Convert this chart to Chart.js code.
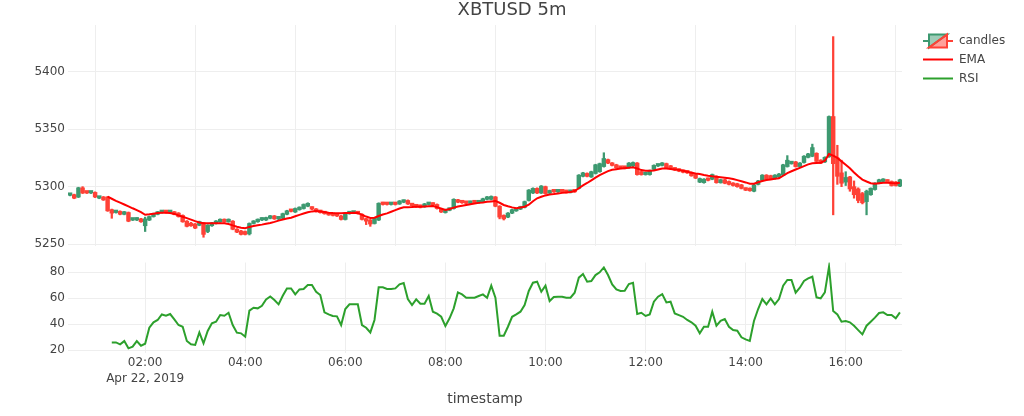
<!DOCTYPE html>
<html>
<head>
<meta charset="utf-8">
<script src="https://cdn.jsdelivr.net/npm/chart.js@4/dist/chart.umd.min.js"></script>
<style>
  html, body { margin: 0; padding: 0; background: #ffffff; }
  #wrap { position: relative; width: 1024px; height: 416px; overflow: hidden; }
  #priceCanvas { position: absolute; left: 0; top: 0; }
  #rsiCanvas { position: absolute; left: 0; top: 250px; }
</style>
</head>
<body>
<div id="wrap">
  <canvas id="priceCanvas" width="1024" height="262"></canvas>
  <canvas id="rsiCanvas" width="1024" height="166"></canvas>
</div>
<script>
// ---------------- DATA ----------------
const chartTitle = 'XBTUSD 5m';
const startMinute = 30;      // first candle 00:30, Apr 22 2019
const stepMinutes = 5;       // 5m candles

const open = [
  5292.5,5293,5291,5299,5295,5294.5,5295,5290,5291,5291,
  5280,5277.5,5278.5,5276,5277.5,5271,5271,5272,5266,5271,
  5274,5276,5277.5,5278.5,5277.5,5278,5277,5275,5270,5268,
  5267.5,5266.5,5268.5,5261,5266,5268,5269.5,5271.5,5269.5,5270,
  5263,5261.5,5261,5259,5268,5269.5,5271,5271,5272.5,5274.5,
  5272,5272.5,5276,5279.5,5278,5280,5281,5283,5282,5280.5,
  5279,5277.5,5277,5276,5275.5,5274.5,5271.5,5276.5,5277,5278,
  5276,5272,5271,5268,5271,5286,5285.5,5284.5,5285.5,5285,
  5286.5,5288,5285,5284,5283.5,5282.5,5284.5,5285.5,5284.5,5281,
  5277.5,5279.5,5281,5288.5,5287,5286.5,5285.5,5287.5,5286,5287,
  5289,5289,5291,5283,5275,5273.5,5277,5279,5280.5,5282,
  5288,5294.5,5298.5,5294.5,5300,5294.5,5296.5,5295.5,5296.5,5296,
  5295,5296.5,5298.5,5309,5311.5,5308.5,5311.5,5313,5317.5,5323.5,
  5320.5,5319,5317,5317,5316.5,5318,5320.5,5313,5310.5,5310.5,
  5315,5318,5318.5,5320,5318,5316,5315,5314,5313.5,5312.5,
  5310.5,5304,5303.5,5307,5306.5,5309,5303.5,5306,5304.5,5303,
  5302.5,5301.5,5298.5,5298.5,5296,5302,5305.5,5310,5309.5,5307,
  5308.5,5310,5317.5,5320,5321.5,5317.5,5321,5325.5,5326.5,5329,
  5323,5321.5,5326,5361,5325,5312,5304,5308.5,5300,5298,
  5294,5287,5293,5297.5,5303,5304.5,5305.5,5304.5,5304,5300.5
];
const high = [
  5294,5293.5,5299.5,5300,5295.5,5295.5,5295.5,5291.5,5291.5,5291.5,
  5280.5,5279,5279,5278.5,5278,5272.5,5273,5272.5,5273.5,5274.5,
  5277,5278.5,5279,5279,5278.5,5278.5,5277.5,5275.5,5270.5,5269,
  5268,5270,5269,5267,5269,5270.5,5272,5272,5272,5270.5,
  5263.5,5262,5261.5,5268.5,5270.5,5272,5273,5273.5,5275,5275,
  5273.5,5277,5279.5,5280,5281.5,5282.5,5285,5286,5282.5,5281,
  5279.5,5278,5277.5,5276.5,5276,5275,5277.5,5278,5278.5,5278.5,
  5276.5,5272.5,5271.5,5273,5286,5286.5,5286,5286,5286,5288,
  5288.5,5288.5,5285.5,5284.5,5284,5285.5,5286,5286,5285,5281.5,
  5280.5,5281.5,5289.5,5289,5287.5,5287,5287.5,5288,5288,5290,
  5291.5,5292,5291.5,5283.5,5275.5,5277.5,5280.5,5281,5283,5287.5,
  5297.5,5299,5299,5301,5300.5,5297,5297,5297,5297,5296.5,
  5297,5297,5310.5,5312.5,5312,5313.5,5319.5,5320.5,5329.5,5324,
  5321,5319.5,5317.5,5317.5,5321,5321.5,5321,5313.5,5312,5314.5,
  5319,5319.5,5321,5320.5,5318.5,5316.5,5315.5,5314.5,5314,5313,
  5311,5307.5,5307,5307.5,5311,5309.5,5306.5,5306.5,5305,5303.5,
  5303,5302,5299,5299,5302,5305.5,5310.5,5310.5,5310,5310.5,
  5311.5,5319.5,5327,5321.5,5322,5321,5327,5329,5337,5329.5,
  5323.5,5326,5361.5,5430.5,5336,5323,5313,5309,5305,5299,
  5295,5297,5299,5303.5,5306.5,5307,5306,5305,5304.5,5306.5
];
const low = [
  5292,5289.5,5290.5,5294,5294,5294,5290.5,5289.5,5288,5278.5,
  5272.5,5277,5275.5,5275.5,5269.5,5270.5,5270.5,5269,5261,5270.5,
  5273.5,5275.5,5277,5277,5277,5275.5,5273.5,5269,5265,5265.5,
  5263.5,5266,5256,5260,5265.5,5267.5,5269,5269,5269,5262.5,
  5260,5258,5258,5258,5267.5,5269,5270.5,5270.5,5272,5271.5,
  5271,5272,5275.5,5278,5277.5,5279.5,5280.5,5282.5,5280,5278,
  5277,5276,5275,5274.5,5274,5271,5271,5276,5276.5,5276,
  5271,5267,5265.5,5267.5,5270.5,5284,5284,5284,5284,5284.5,
  5286,5284.5,5283,5282,5281.5,5282,5284,5283.5,5280.5,5277.5,
  5277,5279,5280.5,5286,5285.5,5285,5285,5285.5,5285.5,5286.5,
  5288.5,5288.5,5282.5,5272,5271,5273,5276.5,5278.5,5280,5281.5,
  5287.5,5294,5294,5294,5293.5,5294,5295,5295,5295,5294.5,
  5294.5,5295,5298,5308.5,5308.5,5308,5311,5312.5,5317,5320,
  5318,5316,5315.5,5315.5,5316,5317.5,5310,5310,5310,5310,
  5314.5,5317.5,5318,5316,5315.5,5314,5313,5312,5311.5,5309,
  5307,5303.5,5303,5305,5306,5303,5303,5302.5,5301.5,5300.5,
  5299.5,5298,5296.5,5296,5295.5,5301.5,5305,5306,5306.5,5306.5,
  5308,5309.5,5317,5319.5,5317,5317,5320.5,5325,5326,5321.5,
  5320,5321,5325.5,5275.5,5302,5300,5301,5296,5290,5286,
  5285,5275.5,5292.5,5297,5302.5,5304,5303.5,5300.5,5300.5,5300
];
const close = [
  5293.5,5290,5299,5294.5,5294.5,5295,5291,5291,5288.5,5279,
  5277,5278.5,5276,5278,5270,5272,5272.5,5269.5,5272,5274,
  5276.5,5278,5278.5,5277.5,5278,5276,5274,5269.5,5265.5,5266,
  5264,5269.5,5258.5,5266.5,5268.5,5270,5271.5,5269.5,5271.5,5263,
  5260.5,5258.5,5258.5,5268,5270,5271.5,5272.5,5273,5274.5,5272,
  5273,5276.5,5279,5278.5,5281,5282,5284.5,5285.5,5280.5,5278.5,
  5277.5,5276.5,5275.5,5275,5274.5,5271.5,5277,5277.5,5278,5276.5,
  5271.5,5270,5267.5,5272.5,5285.5,5284.5,5284.5,5285.5,5284.5,5287.5,
  5288,5285,5283.5,5282.5,5282,5285,5285.5,5284,5281,5278,
  5280,5281,5289,5286.5,5286,5285.5,5287,5286,5287.5,5289.5,
  5291,5291.5,5283,5273.5,5272,5277,5280,5280.5,5282.5,5287,
  5297,5298.5,5294.5,5300.5,5294,5296.5,5295.5,5296.5,5295.5,5295,
  5296.5,5295.5,5310,5312,5309,5313,5319,5320,5324.5,5320.5,
  5318.5,5316.5,5316,5316,5320.5,5321,5310.5,5310.5,5311.5,5314,
  5318.5,5319,5320.5,5316.5,5316,5314.5,5313.5,5312.5,5312,5309.5,
  5307.5,5307,5306.5,5305.5,5310.5,5303.5,5306,5303,5302,5301,
  5300,5298.5,5297,5296.5,5301.5,5305,5310,5306.5,5307,5310,
  5311,5319,5323,5321,5317.5,5320.5,5326.5,5328.5,5334,5322,
  5320.5,5325.5,5361,5320,5309,5303,5308,5298,5293,5288,
  5286,5296,5298.5,5303,5306,5306.5,5304,5301,5301,5306
];
const ema = [
  null,null,null,null,null,null,null,null,null,5291.3,
  5289.5,5287.7,5286.1,5284.5,5282.9,5281.2,5279.6,5277.9,5275.6,5276.0,
  5276.5,5277.0,5277.4,5277.3,5277.0,5276.3,5275.0,5273.8,5272.6,5271.3,
  5270.0,5268.9,5268.2,5268.2,5268.2,5268.2,5268.2,5268.2,5267.5,5266.3,
  5265.2,5264.3,5263.8,5265.0,5265.8,5266.4,5267.0,5267.7,5268.4,5269.4,
  5270.5,5271.5,5272.3,5273.0,5274.3,5275.5,5276.6,5277.7,5278.5,5278.8,
  5278.4,5277.9,5277.4,5277.0,5276.8,5276.9,5277.1,5277.2,5277.3,5277.2,
  5275.5,5274.0,5272.8,5273.0,5274.5,5275.8,5276.8,5278.2,5279.6,5281.0,
  5282.1,5282.2,5282.3,5282.5,5282.6,5282.8,5283.0,5283.2,5282.2,5280.9,
  5279.7,5280.6,5281.8,5282.7,5283.4,5284.1,5284.8,5285.3,5285.9,5286.3,
  5286.8,5287.2,5287.6,5286.0,5284.1,5283.0,5282.0,5281.3,5281.8,5282.6,
  5284.3,5287.3,5289.9,5291.2,5292.4,5293.2,5293.6,5294.1,5294.6,5295.0,
  5295.4,5296.2,5298.6,5301.1,5303.2,5305.5,5307.8,5310.1,5311.8,5313.5,
  5314.7,5315.2,5315.7,5316.1,5316.5,5316.9,5315.8,5314.4,5313.9,5313.9,
  5314.0,5314.9,5315.8,5315.8,5315.4,5315.0,5314.6,5313.8,5313.0,5312.1,
  5311.4,5311.0,5310.2,5309.5,5309.0,5308.6,5308.2,5307.8,5307.4,5306.6,
  5305.7,5304.7,5303.7,5302.5,5302.6,5303.8,5304.9,5305.8,5306.3,5306.8,
  5307.3,5309.5,5311.8,5313.4,5314.9,5316.4,5317.9,5319.4,5320.4,5320.6,
  5320.8,5322.5,5328.4,5327.0,5325.0,5322.0,5319.0,5316.0,5312.4,5309.0,
  5306.2,5304.5,5303.0,5302.5,5303.0,5303.5,5303.3,5303.1,5303.0,5303.4
];
const rsi = [
  null,null,null,null,null,null,null,null,null,null,
  25.9,25.9,24.4,26.9,21.3,22.6,26.9,23.3,24.9,37.2,
  41.4,43.2,47.5,46.5,47.8,43.7,39.3,38.0,27.0,24.4,
  23.9,33.6,25.2,34.7,40.6,41.9,47.0,46.5,48.8,39.3,
  33.4,32.9,30.3,50.4,52.7,52.2,54.2,59.1,61.4,58.6,
  55.3,61.9,67.6,67.6,63.0,66.8,67.1,70.2,70.2,65.0,
  62.5,49.1,47.5,46.3,46.0,39.3,51.7,55.3,55.3,55.3,
  39.3,37.2,33.6,43.2,68.4,68.4,67.1,67.1,67.6,70.7,
  71.7,59.4,54.8,59.1,55.8,55.8,61.7,49.6,48.1,45.7,
  38.5,44.5,52.2,64.5,63.0,60.4,60.4,60.4,61.7,63.0,
  60.4,69.7,60.4,31.1,31.1,38.0,45.7,47.5,49.6,54.8,
  65.6,72.0,72.8,65.0,69.7,57.8,60.9,61.2,61.2,60.4,
  60.4,64.3,75.9,78.7,72.8,73.3,77.9,80.0,83.8,77.9,
  70.7,66.8,65.6,65.8,71.0,72.0,47.8,48.8,46.3,47.5,
  57.3,61.2,63.2,56.8,57.3,48.3,47.0,45.7,43.2,41.4,
  38.8,32.9,38.0,38.0,49.6,38.8,42.6,43.9,38.0,35.4,
  34.9,29.8,28.2,27.0,42.4,51.7,59.4,55.3,59.9,55.3,
  59.4,69.7,74.1,74.1,64.3,68.1,73.3,75.3,76.6,60.7,
  59.9,64.5,84.4,50.1,47.5,41.9,42.4,41.4,38.8,35.4,
  32.1,38.8,41.9,45.0,48.6,49.1,47.0,47.0,44.5,49.1
];
const priceTicks = [5250, 5300, 5350, 5400];
const rsiTicks = [20, 40, 60, 80];
const timeTicks = [120, 240, 360, 480, 600, 720, 840, 960];
const timeTickLabels = ['02:00', '04:00', '06:00', '08:00', '10:00', '12:00', '14:00', '16:00'];
const dateLabel = 'Apr 22, 2019';
const xTitle = 'timestamp';
const legendLabels = ['candles', 'EMA', 'RSI'];

// ---------------- STYLE ----------------
const UP = '#3D9970', DOWN = '#FF4136';
const UP_FILL = 'rgba(61,153,112,0.5)', DOWN_FILL = 'rgba(255,65,54,0.5)';
const EMA_COLOR = '#ff0000', RSI_COLOR = '#2ca02c';
const GRID = '#eeeeee';
const FONT = 'Verdana, "DejaVu Sans", sans-serif';
const X_MIN = 27.5, X_MAX = 1027.5;
const PLOT_LEFT = 68, RIGHT_SPACE = 122;

Chart.defaults.font.family = FONT;
Chart.defaults.font.size = 12;
Chart.defaults.color = '#444';

const times = close.map((_, i) => startMinute + i * stepMinutes);
const candleColor = times.map((_, i) => close[i] >= open[i] ? UP : DOWN);

const legendPlugin = {
  id: 'plotlyLegend',
  afterDraw(chart) {
    const ctx = chart.ctx;
    ctx.save();
    const cy = 41, x0 = 923, bx0 = 929, bx1 = 947, x1 = 953, by0 = 34.5, by1 = 47.5;
    ctx.lineWidth = 2;
    ctx.strokeStyle = UP;
    ctx.beginPath(); ctx.moveTo(x0, cy); ctx.lineTo(bx0, cy); ctx.stroke();
    ctx.fillStyle = UP_FILL;
    ctx.beginPath(); ctx.moveTo(bx0, by0); ctx.lineTo(bx1, by0); ctx.lineTo(bx0, by1); ctx.closePath(); ctx.fill(); ctx.stroke();
    ctx.strokeStyle = DOWN;
    ctx.beginPath(); ctx.moveTo(bx1, cy); ctx.lineTo(x1, cy); ctx.stroke();
    ctx.fillStyle = DOWN_FILL;
    ctx.beginPath(); ctx.moveTo(bx1, by0); ctx.lineTo(bx1, by1); ctx.lineTo(bx0, by1); ctx.closePath(); ctx.fill(); ctx.stroke();
    ctx.strokeStyle = EMA_COLOR;
    ctx.beginPath(); ctx.moveTo(x0, 59.5); ctx.lineTo(x1, 59.5); ctx.stroke();
    ctx.strokeStyle = RSI_COLOR;
    ctx.beginPath(); ctx.moveTo(x0, 78.5); ctx.lineTo(x1, 78.5); ctx.stroke();
    ctx.fillStyle = '#444';
    ctx.font = '12px ' + FONT;
    ctx.textBaseline = 'middle';
    ctx.textAlign = 'left';
    ctx.fillText(legendLabels[0], 959, 41);
    ctx.fillText(legendLabels[1], 959, 60);
    ctx.fillText(legendLabels[2], 959, 79);
    ctx.restore();
  }
};

const xTicksBuilder = (s) => { s.ticks = timeTicks.map(v => ({ value: v })); };

// ---------------- PRICE CHART ----------------
new Chart(document.getElementById('priceCanvas'), {
  type: 'bar',
  data: {
    datasets: [
      {
        type: 'line', label: 'EMA',
        data: times.map((t, i) => ({ x: t, y: ema[i] })),
        borderColor: EMA_COLOR, borderWidth: 2, pointRadius: 0, tension: 0,
        order: 0
      },
      {
        type: 'bar', label: 'candles',
        data: times.map((t, i) => ({ x: t, y: [open[i], close[i]] })),
        backgroundColor: candleColor, borderWidth: 0,
        barThickness: 3.8, minBarLength: 2.5, grouped: false, order: 1
      },
      {
        type: 'bar', label: 'wicks',
        data: times.map((t, i) => ({ x: t, y: [low[i], high[i]] })),
        backgroundColor: candleColor, borderWidth: 0,
        barThickness: 1.6, grouped: false, order: 2
      }
    ]
  },
  options: {
    responsive: false, animation: false, events: [],
    layout: { padding: { left: 0, right: 0, top: 0, bottom: 16 } },
    plugins: {
      legend: { display: false }, tooltip: { enabled: false },
      title: {
        display: true, text: chartTitle, color: '#444',
        font: { size: 18, weight: 'normal', family: FONT, lineHeight: 1.2 },
        padding: { top: 0, bottom: 3.4 }
      }
    },
    scales: {
      x: {
        type: 'linear', min: X_MIN, max: X_MAX, offset: false,
        grid: { color: GRID, lineWidth: 1, drawTicks: false },
        border: { display: false },
        ticks: { display: false },
        afterBuildTicks: xTicksBuilder,
        afterFit: (s) => { s.height = 0; }
      },
      y: {
        min: 5248.4, max: 5440.6,
        grid: { color: GRID, lineWidth: 1, drawTicks: false },
        border: { display: false },
        ticks: { padding: 3, callback: (v) => String(v) },
        afterBuildTicks: (s) => { s.ticks = priceTicks.map(v => ({ value: v })); },
        afterFit: (s) => { s.width = PLOT_LEFT; }
      },
      legendSpace: {
        type: 'linear', position: 'right', display: true,
        grid: { display: false, drawTicks: false },
        border: { display: false },
        ticks: { display: false },
        afterFit: (s) => { s.width = RIGHT_SPACE; }
      }
    }
  },
  plugins: [legendPlugin]
});

// ---------------- RSI CHART ----------------
new Chart(document.getElementById('rsiCanvas'), {
  type: 'line',
  data: {
    datasets: [{
      label: 'RSI',
      data: times.map((t, i) => ({ x: t, y: rsi[i] })),
      borderColor: RSI_COLOR, borderWidth: 2, pointRadius: 0, tension: 0
    }]
  },
  options: {
    responsive: false, animation: false, events: [],
    layout: { padding: { left: 0, right: RIGHT_SPACE, top: 12.5, bottom: 0 } },
    plugins: { legend: { display: false }, tooltip: { enabled: false } },
    scales: {
      x: {
        type: 'linear', min: X_MIN, max: X_MAX, offset: false,
        grid: { color: GRID, lineWidth: 1, drawTicks: false },
        border: { display: false },
        ticks: {
          padding: 3, maxRotation: 0, autoSkip: false,
          font: { size: 12, lineHeight: 1.3 },
          callback: (v) => {
            const k = timeTicks.indexOf(v);
            const lbl = k >= 0 ? timeTickLabels[k] : '';
            return k === 0 ? [lbl, dateLabel] : lbl;
          }
        },
        title: {
          display: true, text: xTitle, color: '#444',
          font: { size: 14, lineHeight: 1.2 },
          padding: { top: 0, bottom: 8.6 }
        },
        afterBuildTicks: xTicksBuilder,
        afterFit: (s) => { s.height = 63.5; }
      },
      y: {
        min: 18.1, max: 87.6,
        grid: { color: GRID, lineWidth: 1, drawTicks: false },
        border: { display: false },
        ticks: { padding: 3, callback: (v) => String(v) },
        afterBuildTicks: (s) => { s.ticks = rsiTicks.map(v => ({ value: v })); },
        afterFit: (s) => { s.width = PLOT_LEFT; }
      }
    }
  }
});
</script>
</body>
</html>
